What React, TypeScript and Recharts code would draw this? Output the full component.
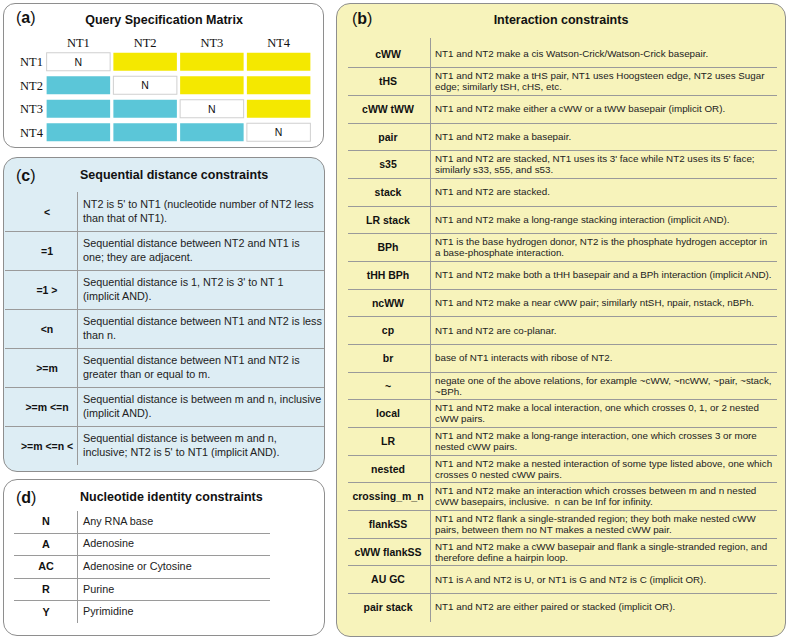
import React from "react";
import { ScatterChart, Scatter, XAxis, YAxis } from "recharts";

// panel (a) query matrix
const matrixCols = ["NT1", "NT2", "NT3", "NT4"];
const matrixRows = ["NT1", "NT2", "NT3", "NT4"];
const matrixCells = [
  ["N", "upper", "upper", "upper"],
  ["lower", "N", "upper", "upper"],
  ["lower", "lower", "N", "upper"],
  ["lower", "lower", "lower", "N"],
];

// panel (b)
const interactionLabels = [
  "cWW", "tHS", "cWW tWW", "pair", "s35", "stack", "LR stack", "BPh", "tHH BPh", "ncWW", "cp",
  "br", "~", "local", "LR", "nested", "crossing_m_n", "flankSS", "cWW flankSS", "AU GC", "pair stack",
];
const interactionText = [
  "NT1 and NT2 make a cis Watson-Crick/Watson-Crick basepair.",
  "NT1 and NT2 make a tHS pair, NT1 uses Hoogsteen edge, NT2 uses Sugar\nedge; similarly tSH, cHS, etc.",
  "NT1 and NT2 make either a cWW or a tWW basepair (implicit OR).",
  "NT1 and NT2 make a basepair.",
  "NT1 and NT2 are stacked, NT1 uses its 3' face while NT2 uses its 5' face;\nsimilarly s33, s55, and s53.",
  "NT1 and NT2 are stacked.",
  "NT1 and NT2 make a long-range stacking interaction (implicit AND).",
  "NT1 is the base hydrogen donor, NT2 is the phosphate hydrogen acceptor in\na base-phosphate interaction.",
  "NT1 and NT2 make both a tHH basepair and a BPh interaction (implicit AND).",
  "NT1 and NT2 make a near cWW pair; similarly ntSH, npair, nstack, nBPh.",
  "NT1 and NT2 are co-planar.",
  "base of NT1 interacts with ribose of NT2.",
  "negate one of the above relations, for example ~cWW, ~ncWW, ~pair, ~stack,\n~BPh.",
  "NT1 and NT2 make a local interaction, one which crosses 0, 1, or 2 nested\ncWW pairs.",
  "NT1 and NT2 make a long-range interaction, one which crosses 3 or more\nnested cWW pairs.",
  "NT1 and NT2 make a nested interaction of some type listed above, one which\ncrosses 0 nested cWW pairs.",
  "NT1 and NT2 make an interaction which crosses between m and n nested\ncWW basepairs, inclusive.  n can be Inf for infinity.",
  "NT1 and NT2 flank a single-stranded region; they both make nested cWW\npairs, between them no NT makes a nested cWW pair.",
  "NT1 and NT2 make a cWW basepair and flank a single-stranded region, and\ntherefore define a hairpin loop.",
  "NT1 is A and NT2 is U, or NT1 is G and NT2 is C (implicit OR).",
  "NT1 and NT2 are either paired or stacked (implicit OR).",
];

// panel (c)
const sequentialLabels = ["<", "=1", "=1 >", "<n", ">=m", ">=m <=n", ">=m <=n <"];
const sequentialText = [
  "NT2 is 5' to NT1 (nucleotide number of NT2 less\nthan that of NT1).",
  "Sequential distance between NT2 and NT1 is\none; they are adjacent.",
  "Sequential distance is 1, NT2 is 3' to NT 1\n(implicit AND).",
  "Sequential distance between NT1 and NT2 is less\nthan n.",
  "Sequential distance between NT1 and NT2 is\ngreater than or equal to m.",
  "Sequential distance is between m and n, inclusive\n(implicit AND).",
  "Sequential distance is between m and n,\ninclusive; NT2 is 5' to NT1 (implicit AND).",
];

// panel (d)
const identityLabels = ["N", "A", "AC", "R", "Y"];
const identityText = ["Any RNA base", "Adenosine", "Adenosine or Cytosine", "Purine", "Pyrimidine"];

const SANS = '"Liberation Sans", Arial, sans-serif';
const SERIF = '"Liberation Serif", "Times New Roman", serif';
const BORDER = "1.5px solid #8e8e8e";
const LINE = "#9a9a9a";

const matrixData = matrixRows.flatMap((r, i) =>
  matrixCols.map((c, j) => ({ row: r, col: c, kind: matrixCells[i][j] }))
);

const CellShape = (props: any) => {
  const { cx, cy, payload } = props;
  const w = 63.5;
  const h = 18;
  if (payload.kind === "N") {
    return (
      <g>
        <rect x={cx - w / 2} y={cy - h / 2} width={w} height={h} fill="#fff" stroke="#d0d0d0" strokeWidth={1} />
        <text x={cx} y={cy + 4} textAnchor="middle" fontFamily={SANS} fontSize={10.5} fill="#111">
          N
        </text>
      </g>
    );
  }
  return (
    <rect
      x={cx - w / 2}
      y={cy - h / 2}
      width={w}
      height={h}
      fill={payload.kind === "upper" ? "#f4e800" : "#5bc6d8"}
    />
  );
};

const Box = ({ left, top, width, height, bg, radius }: any) => (
  <div
    style={{
      position: "absolute",
      left,
      top,
      width,
      height,
      background: bg,
      border: BORDER,
      borderRadius: radius,
      boxSizing: "border-box",
    }}
  />
);

const PanelTag = ({ letter, left, top }: any) => (
  <div style={{ position: "absolute", left, top, fontFamily: SANS, fontSize: 16, lineHeight: "18px", color: "#111" }}>
    (<b>{letter}</b>)
  </div>
);

const Title = ({ text, left, top, center }: any) => (
  <div
    style={{
      position: "absolute",
      left: center ? left - 150 : left,
      width: center ? 300 : undefined,
      textAlign: center ? "center" : "left",
      top,
      fontFamily: SANS,
      fontWeight: "bold",
      fontSize: 12.5,
      lineHeight: "16px",
      color: "#111",
      whiteSpace: "nowrap",
    }}
  >
    {text}
  </div>
);

const Table = (p: any) => {
  const n = p.labels.length;
  return (
    <>
      <div
        style={{
          position: "absolute",
          left: p.divX,
          top: p.divTop,
          width: 1,
          height: p.divBottom - p.divTop,
          background: LINE,
        }}
      />
      {p.labels.map((lab: string, i: number) => (
        <React.Fragment key={i}>
          <div
            style={{
              position: "absolute",
              left: p.labelCenter - 45,
              width: 90,
              top: p.top + i * p.rowH,
              height: p.rowH,
              display: "flex",
              alignItems: "center",
              justifyContent: "center",
              fontFamily: SANS,
              fontWeight: "bold",
              fontSize: p.labelSize,
              color: "#111",
              whiteSpace: "pre",
            }}
          >
            {lab}
          </div>
          <div
            style={{
              position: "absolute",
              left: p.textLeft,
              top: p.top + i * p.rowH,
              height: p.rowH,
              display: "flex",
              alignItems: "center",
              fontFamily: SANS,
              fontSize: p.textSize,
              lineHeight: p.lineH + "px",
              color: "#222",
              whiteSpace: "pre",
            }}
          >
            {p.texts[i]}
          </div>
          {i < n - 1 && (
            <div
              style={{
                position: "absolute",
                left: p.sepLeft,
                width: p.sepRight - p.sepLeft,
                top: p.top + (i + 1) * p.rowH,
                height: 1,
                background: LINE,
              }}
            />
          )}
        </React.Fragment>
      ))}
    </>
  );
};

export default function App() {
  return (
    <div style={{ position: "absolute", left: 0, top: 0, width: 789, height: 641, background: "#fff", overflow: "hidden" }}>
      {/* (a) */}
      <Box left={3} top={3} width={321} height={145} bg="#fff" radius={12} />
      <PanelTag letter="a" left={16} top={9} />
      <Title text="Query Specification Matrix" left={164} top={12} center />
      <div style={{ position: "absolute", left: 0, top: 0 }}>
        <ScatterChart width={330} height={150} margin={{ top: 0, right: 18, bottom: 6, left: 0 }}>
          <XAxis
            dataKey="col"
            type="category"
            allowDuplicatedCategory={false}
            orientation="top"
            height={50}
            axisLine={false}
            tickLine={false}
            tickSize={0}
            tickMargin={3}
            interval={0}
            tick={{ fontFamily: SERIF, fontSize: 12.5, fill: "#111" }}
          />
          <YAxis
            dataKey="row"
            type="category"
            allowDuplicatedCategory={false}
            width={45}
            axisLine={false}
            tickLine={false}
            tickSize={0}
            tickMargin={2}
            interval={0}
            reversed
            tick={{ fontFamily: SERIF, fontSize: 12.5, fill: "#111" }}
          />
          <Scatter data={matrixData} shape={<CellShape />} isAnimationActive={false} />
        </ScatterChart>
      </div>

      {/* (c) */}
      <Box left={3} top={157} width={322} height={315} bg="#ddedf4" radius={14} />
      <PanelTag letter="c" left={16} top={167} />
      <Title text="Sequential distance constraints" left={80} top={167} />
      <Table
        labels={sequentialLabels}
        texts={sequentialText}
        top={192}
        rowH={39}
        divX={77}
        divTop={192}
        divBottom={465}
        labelCenter={47}
        textLeft={83}
        sepLeft={5}
        sepRight={324}
        labelSize={10.5}
        textSize={10.8}
        lineH={13.5}
      />

      {/* (d) */}
      <Box left={3} top={479} width={322} height={157} bg="#fff" radius={14} />
      <PanelTag letter="d" left={16} top={489} />
      <Title text="Nucleotide identity constraints" left={80} top={489} />
      <Table
        labels={identityLabels}
        texts={identityText}
        top={510}
        rowH={22.6}
        divX={77}
        divTop={511}
        divBottom={623}
        labelCenter={46}
        textLeft={83}
        sepLeft={14}
        sepRight={270}
        labelSize={10.8}
        textSize={10.8}
        lineH={13}
      />

      {/* (b) */}
      <Box left={336} top={3} width={450} height={634} bg="#f7f3bb" radius={14} />
      <PanelTag letter="b" left={352} top={10} />
      <Title text="Interaction constraints" left={561} top={12} center />
      <Table
        labels={interactionLabels}
        texts={interactionText}
        top={39.8}
        rowH={27.66}
        divX={430}
        divTop={38}
        divBottom={622}
        labelCenter={388}
        textLeft={435}
        sepLeft={348}
        sepRight={777}
        labelSize={10.5}
        textSize={9.8}
        lineH={11}
      />
    </div>
  );
}
